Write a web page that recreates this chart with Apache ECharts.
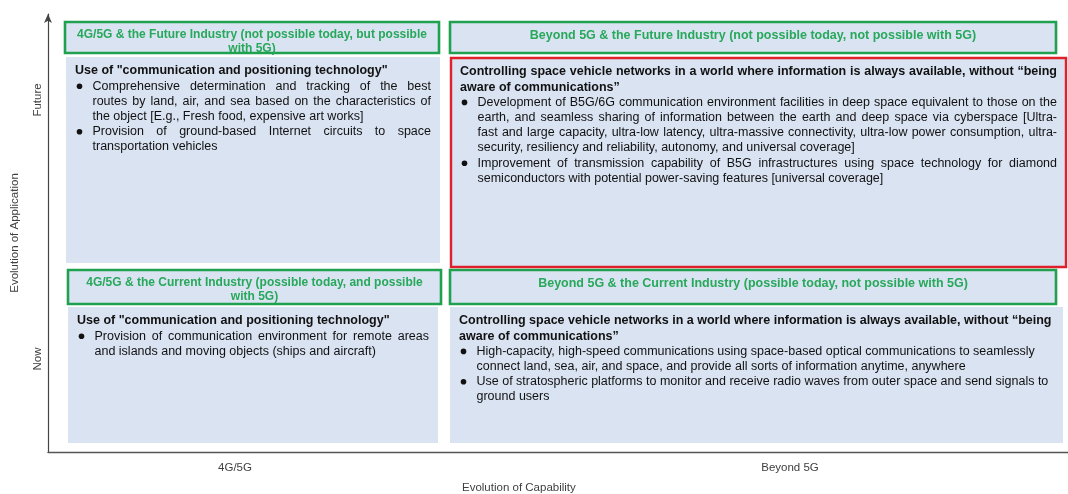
<!DOCTYPE html>
<html>
<head>
<meta charset="utf-8">
<script src="https://cdn.jsdelivr.net/npm/echarts@6/dist/echarts.min.js"></script>
<style>
html,body{margin:0;padding:0;background:#fff;}
#chart{width:1068px;height:494px;}
</style>
</head>
<body>
<div id="chart"></div>
<script>
// ---- Data ----
const capabilityLabels = ['4G/5G', 'Beyond 5G'];
const applicationLabels = ['Now', 'Future'];
const axisNames = ['Evolution of Capability', 'Evolution of Application'];

// cells: [capability index, application index]
const cells = [[0, 1], [1, 1], [0, 0], [1, 0]];

const headerLines = [
  ['4G/5G & the Future Industry (not possible today, but possible', 'with 5G)'],
  ['Beyond 5G & the Future Industry (not possible today, not possible with 5G)'],
  ['4G/5G & the Current Industry (possible today, and possible', 'with 5G)'],
  ['Beyond 5G & the Current Industry (possible today, not possible with 5G)']
];

const titleLines = [
  ['Use of "communication and positioning technology"'],
  ['Controlling space vehicle networks in a world where information is always available, without \u201cbeing', 'aware of communications\u201d'],
  ['Use of "communication and positioning technology"'],
  ['Controlling space vehicle networks in a world where information is always available, without \u201cbeing', 'aware of communications\u201d']
];

const bulletLines = [
  [
    ['Comprehensive determination and tracking of the best', 'routes by land, air, and sea based on the characteristics of', 'the object [E.g., Fresh food, expensive art works]'],
    ['Provision of ground-based Internet circuits to space', 'transportation vehicles']
  ],
  [
    ['Development of B5G/6G communication environment facilities in deep space equivalent to those on the', 'earth, and seamless sharing of information between the earth and deep space via cyberspace [Ultra-', 'fast and large capacity, ultra-low latency, ultra-massive connectivity, ultra-low power consumption, ultra-', 'security, resiliency and reliability, autonomy, and universal coverage]'],
    ['Improvement of transmission capability of B5G infrastructures using space technology for diamond', 'semiconductors with potential power-saving features [universal coverage]']
  ],
  [
    ['Provision of communication environment for remote areas', 'and islands and moving objects (ships and aircraft)']
  ],
  [
    ['High-capacity, high-speed communications using space-based optical communications to seamlessly', 'connect land, sea, air, and space, and provide all sorts of information anytime, anywhere'],
    ['Use of stratospheric platforms to monitor and receive radio waves from outer space and send signals to', 'ground users']
  ]
];

// ---- Layout (axis units: x = capability axis 0..1020, y = application axis 0..438) ----
const headerBox = [
  [17, 391, 430, 399],
  [402, 1008, 430, 399],
  [20, 393, 182, 148],
  [402, 1008, 182, 148]
];
const bodyBox = [
  [18, 392, 395, 189],
  [403, 1018, 394, 185],
  [20, 390, 145, 9],
  [402, 1015, 145, 9]
];
const justifyCell = [true, true, true, false];
const highlightCell = [false, true, false, false];
const capLabelPos = [187, 742];
const appLabelPos = [93, 352];

const FONT_FAMILY = '"Liberation Sans", Arial, sans-serif';
const headerFontL = 'bold 12px ' + FONT_FAMILY;
const headerFontR = 'bold 12.5px ' + FONT_FAMILY;
const titleFont = 'bold 12.5px ' + FONT_FAMILY;
const bodyFont = '12.5px ' + FONT_FAMILY;
const GREEN = '#1fa14f';
const GREEN_TEXT = '#27a85a';
const RED = '#e0202a';
const FILL = '#dae3f2';
const TEXT = '#111';

const measureCtx = document.createElement('canvas').getContext('2d');
function tw(str, font) { measureCtx.font = font; return measureCtx.measureText(str).width; }

function lineEls(str, x, y, width, font, color, justify) {
  const natural = tw(str, font);
  const words = str.split(' ');
  if ((!justify && natural <= width) || words.length < 2) {
    return [{ type: 'text', style: { x: x, y: y, text: str, font: font, fill: color, verticalAlign: 'middle', align: 'left' } }];
  }
  const ws = words.map(w => tw(w, font));
  const sum = ws.reduce((a, b) => a + b, 0);
  const gap = (width - sum) / (words.length - 1);
  const els = [];
  let cx = x;
  words.forEach((w, k) => {
    els.push({ type: 'text', style: { x: cx, y: y, text: w, font: font, fill: color, verticalAlign: 'middle', align: 'left' } });
    cx += ws[k] + gap;
  });
  return els;
}

function renderItem(params, api) {
  const i = params.dataIndex;
  const children = [];
  // header
  const hb = headerBox[i];
  const h0 = api.coord([hb[0], hb[2]]);
  const h1 = api.coord([hb[1], hb[3]]);
  children.push({
    type: 'rect',
    shape: { x: h0[0], y: h0[1], width: h1[0] - h0[0], height: h1[1] - h0[1] },
    style: { fill: FILL, stroke: GREEN, lineWidth: 2.6 }
  });
  const hl = headerLines[i];
  const hcx = (h0[0] + h1[0]) / 2;
  const hFont = (i % 2 === 0) ? headerFontL : headerFontR;
  hl.forEach((t, k) => {
    const yy = hl.length > 1 ? h0[1] + 12.5 + k * 14 : h0[1] + 14;
    children.push({ type: 'text', style: { x: hcx, y: yy, text: t, font: hFont, fill: GREEN_TEXT, align: 'center', verticalAlign: 'middle' } });
  });
  // body
  const bb = bodyBox[i];
  const b0 = api.coord([bb[0], bb[2]]);
  const b1 = api.coord([bb[1], bb[3]]);
  children.push({
    type: 'rect',
    shape: { x: b0[0], y: b0[1], width: b1[0] - b0[0], height: b1[1] - b0[1] },
    style: highlightCell[i] ? { fill: FILL, stroke: RED, lineWidth: 2.4 } : { fill: FILL }
  });
  const left = b0[0];
  const right = b1[0] - 9;
  const lh = 15.2;
  let y = b0[1] + 14;
  const titles = titleLines[i];
  titles.forEach((t, k) => {
    const isLast = k === titles.length - 1;
    lineEls(t, left + 9, y, right - (left + 9), titleFont, TEXT, justifyCell[i] && !isLast).forEach(e => children.push(e));
    y += lh;
  });
  bulletLines[i].forEach(par => {
    children.push({ type: 'circle', shape: { cx: left + 13.5, cy: y, r: 2.8 }, style: { fill: '#111' } });
    par.forEach((t, k) => {
      const isLast = k === par.length - 1;
      lineEls(t, left + 26.5, y, right - (left + 26.5), bodyFont, TEXT, justifyCell[i] && !isLast).forEach(e => children.push(e));
      y += lh;
    });
  });
  return { type: 'group', children: children };
}

const chart = echarts.init(document.getElementById('chart'), null, { renderer: 'canvas' });
chart.setOption({
  animation: false,
  backgroundColor: '#ffffff',
  grid: { left: 48, right: 0, top: 14, bottom: 42, containLabel: false, outerBoundsMode: 'none' },
  xAxis: {
    type: 'value', min: 0, max: 1020,
    axisLine: { show: true, lineStyle: { color: '#555', width: 1.4 } },
    axisTick: { show: false },
    splitLine: { show: false },
    axisLabel: {
      customValues: capLabelPos,
      formatter: v => capabilityLabels[capLabelPos.indexOf(v)] || '',
      color: '#404040', fontSize: 11.5, fontFamily: FONT_FAMILY, margin: 10
    }
  },
  yAxis: {
    type: 'value', min: 0, max: 438,
    name: axisNames[1], nameLocation: 'middle', nameRotate: 90, nameGap: 27,
    nameTextStyle: { color: '#404040', fontSize: 11.5, fontFamily: FONT_FAMILY },
    axisLine: { show: true, symbol: ['none', 'arrow'], symbolSize: [6, 9], symbolOffset: [0, 0], lineStyle: { color: '#444', width: 1.2 } },
    axisTick: { show: false },
    splitLine: { show: false },
    axisLabel: {
      customValues: appLabelPos,
      formatter: v => applicationLabels[appLabelPos.indexOf(v)] || '',
      rotate: 90, color: '#404040', fontSize: 11.5, fontFamily: FONT_FAMILY, margin: 4
    }
  },
  graphic: [{
    type: 'text', left: 462, top: 482,
    style: { text: axisNames[0], fill: '#404040', font: '11.5px ' + FONT_FAMILY }
  }],
  series: [{
    type: 'custom',
    coordinateSystem: 'cartesian2d',
    renderItem: renderItem,
    clip: false,
    silent: true,
    data: cells
  }]
});
</script>
</body>
</html>
